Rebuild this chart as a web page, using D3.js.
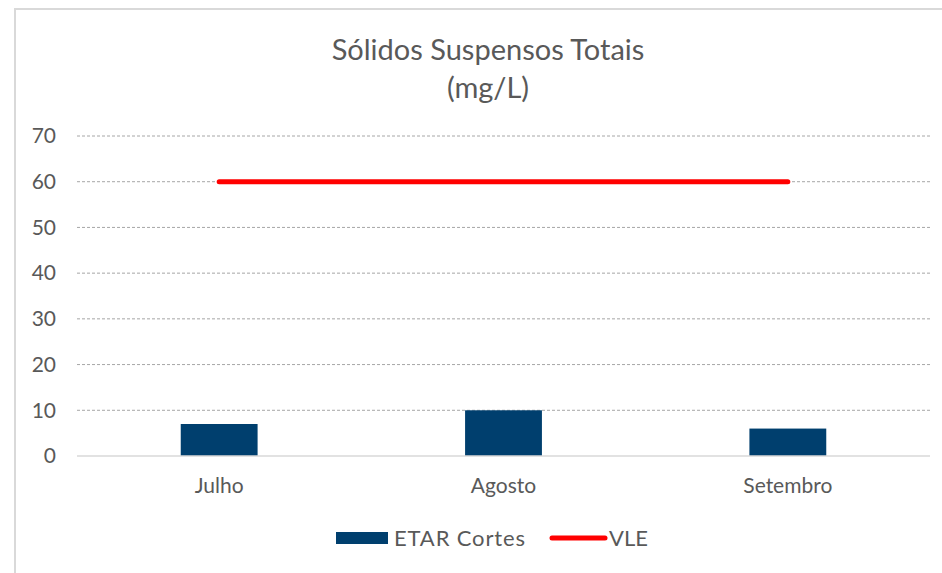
<!DOCTYPE html>
<html>
<head>
<meta charset="utf-8">
<script src="https://cdn.jsdelivr.net/npm/d3@7"></script>
<style>
  body { margin: 0; background: #fff; }
  svg { display: block; font-family: "Lato", "Open Sans", sans-serif; }
</style>
</head>
<body>
<div id="chart"></div>
<script>
const categories = ["Julho", "Agosto", "Setembro"]
const etarCortes = [7, 10, 6]
const vle = [60, 60, 60]
const yTicks = [0, 10, 20, 30, 40, 50, 60, 70]

const W = 942, H = 573
const MARGIN = { TOP: 136, BOTTOM: 117, LEFT: 77, RIGHT: 12 }
const WIDTH = W - MARGIN.LEFT - MARGIN.RIGHT
const HEIGHT = H - MARGIN.TOP - MARGIN.BOTTOM
const TEXT = "#595959"

const svg = d3.select("#chart").append("svg")
  .attr("width", W)
  .attr("height", H)

// chart frame (only left/top visible in the crop)
svg.append("rect")
  .attr("x", 15).attr("y", 9)
  .attr("width", 1000).attr("height", 1000)
  .attr("fill", "#fff")
  .attr("stroke", "#d9d9d9")
  .attr("stroke-width", 2)

// title
const title = svg.append("text")
  .attr("x", 488)
  .attr("text-anchor", "middle")
  .attr("font-size", 29)
  .attr("fill", TEXT)
title.append("tspan").attr("x", 488).attr("y", 60).text("Sólidos Suspensos Totais")
title.append("tspan").attr("x", 488).attr("y", 98).text("(mg/L)")

const g = svg.append("g")
  .attr("transform", `translate(${MARGIN.LEFT}, ${MARGIN.TOP})`)

const x = d3.scaleBand()
  .domain(categories)
  .range([0, WIDTH])

const y = d3.scaleLinear()
  .domain([0, 70])
  .range([HEIGHT, 0])

// gridlines
g.append("g")
  .selectAll("line")
  .data(yTicks.filter(d => d > 0))
  .enter().append("line")
    .attr("x1", 0).attr("x2", WIDTH)
    .attr("y1", d => y(d)).attr("y2", d => y(d))
    .attr("stroke", "#a6a6a6")
    .attr("stroke-width", 1)
    .attr("stroke-dasharray", "3,2")

// y axis labels
const yAxis = g.append("g")
  .call(d3.axisLeft(y).tickValues(yTicks).tickSize(0).tickPadding(21))
yAxis.select(".domain").remove()
yAxis.selectAll("text")
  .attr("font-size", 21)
  .attr("font-family", "Lato, 'Open Sans', sans-serif")
  .attr("fill", TEXT)

// bars (gap width ~270%)
const barW = x.bandwidth() / 3.7
g.selectAll(".bar")
  .data(etarCortes)
  .enter().append("rect")
    .attr("class", "bar")
    .attr("x", (d, i) => x(categories[i]) + x.bandwidth() / 2 - barW / 2)
    .attr("y", d => y(d))
    .attr("width", barW)
    .attr("height", d => y(0) - y(d))
    .attr("fill", "#003f6e")

// x axis baseline
g.append("line")
  .attr("x1", 0).attr("x2", WIDTH)
  .attr("y1", y(0)).attr("y2", y(0))
  .attr("stroke", "#d9d9d9")
  .attr("stroke-width", 1.5)

const xAxis = g.append("g")
  .attr("transform", `translate(0, ${HEIGHT})`)
  .call(d3.axisBottom(x).tickSize(0).tickPadding(22))
xAxis.select(".domain").remove()
xAxis.selectAll("text")
  .attr("font-size", 21)
  .attr("font-family", "Lato, 'Open Sans', sans-serif")
  .attr("fill", TEXT)

// VLE line
const line = d3.line()
  .x((d, i) => x(categories[i]) + x.bandwidth() / 2)
  .y(d => y(d))
g.append("path")
  .datum(vle)
  .attr("d", line)
  .attr("fill", "none")
  .attr("stroke", "#ff0000")
  .attr("stroke-width", 5)
  .attr("stroke-linecap", "round")

// legend
const legend = svg.append("g")
legend.append("rect")
  .attr("x", 336).attr("y", 532)
  .attr("width", 52).attr("height", 12)
  .attr("fill", "#003f6e")
legend.append("text")
  .attr("x", 394).attr("y", 546)
  .attr("font-size", 22)
  .attr("textLength", 131)
  .attr("fill", TEXT)
  .text("ETAR Cortes")
legend.append("line")
  .attr("x1", 552).attr("x2", 605)
  .attr("y1", 538).attr("y2", 538)
  .attr("stroke", "#ff0000")
  .attr("stroke-width", 5)
  .attr("stroke-linecap", "round")
legend.append("text")
  .attr("x", 609).attr("y", 546)
  .attr("font-size", 22)
  .attr("fill", TEXT)
  .text("VLE")
</script>
</body>
</html>
